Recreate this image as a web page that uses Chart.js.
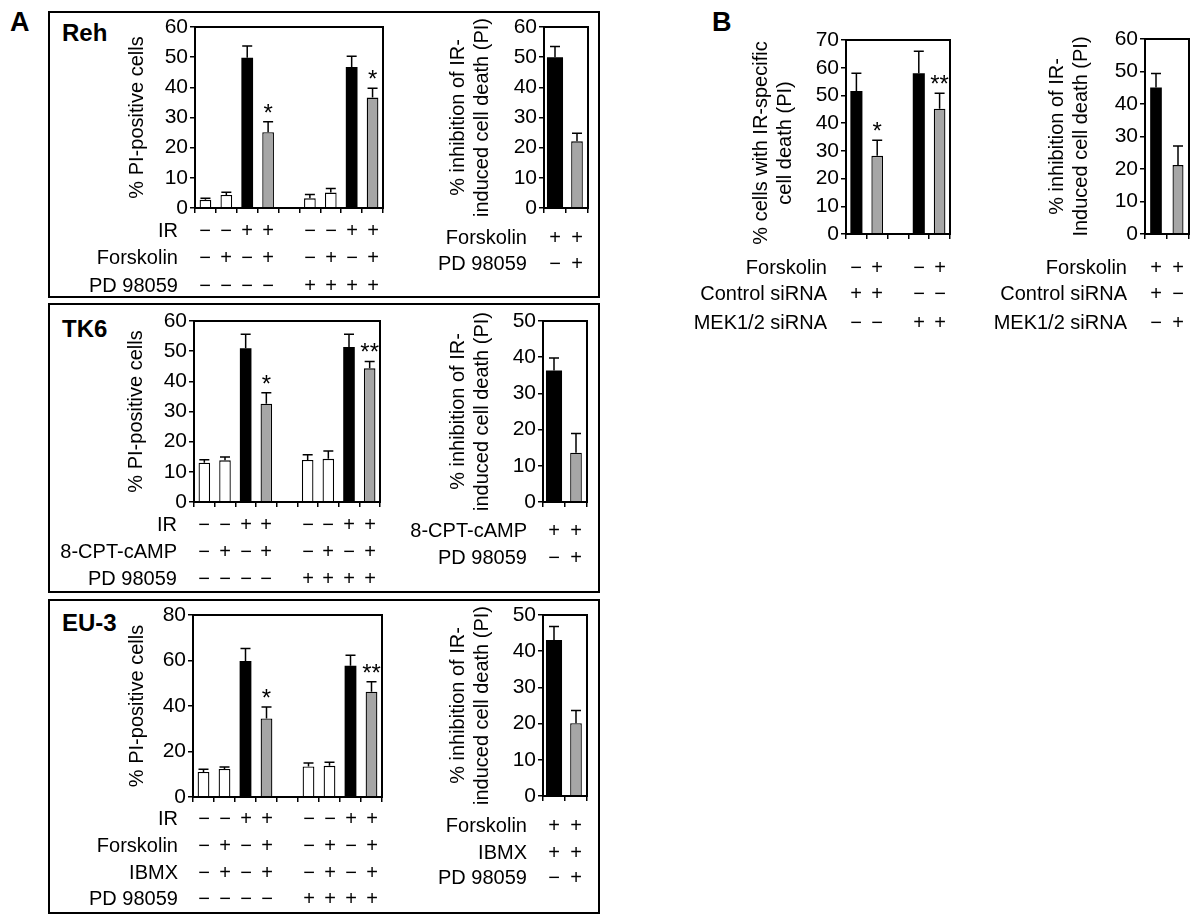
<!DOCTYPE html>
<html><head><meta charset="utf-8">
<script src="https://cdn.jsdelivr.net/npm/chart.js"></script>
<style>
body{margin:0;background:#fff;width:1200px;height:919px;position:relative;overflow:hidden;font-family:'Liberation Sans',Arial,sans-serif;color:#000}
.box{position:absolute;border:2px solid #000;box-sizing:border-box}
.t{position:absolute;font-size:20px;line-height:24px;height:24px;white-space:nowrap;z-index:2}
.lbl{text-align:right;width:300px}
.sg{text-align:center;width:20px}
.big{position:absolute;font-weight:bold;white-space:nowrap;z-index:2}
canvas{position:absolute;z-index:1}
</style></head><body>
<div class="box" style="left:48px;top:11px;width:552px;height:287px"></div>
<div class="box" style="left:48px;top:303px;width:552px;height:290px"></div>
<div class="box" style="left:48px;top:599px;width:552px;height:315px"></div>
<div class="big" style="left:10px;top:7px;font-size:27px;line-height:30px">A</div>
<div class="big" style="left:712px;top:7px;font-size:27px;line-height:30px">B</div>
<div class="big" style="left:62px;top:19px;font-size:24px;line-height:28px">Reh</div>
<div class="big" style="left:62px;top:315px;font-size:24px;line-height:28px">TK6</div>
<div class="big" style="left:62px;top:609px;font-size:24px;line-height:28px">EU-3</div>
<script>
// ---------- DATA ----------
const mainCategories = ['1','2','3','4','','5','6','7','8'];
const sideCategories = ['1','2'];
const bCategories = ['1','2','','3','4'];

const mainColors = ['white','white','black','gray',null,'white','white','black','gray'];
const sideColors = ['black','gray'];
const bColors = ['black','gray',null,'black','gray'];

// Reh
const rehValues = [2.7, 4.3, 49.8, 25.1, null, 3.2, 5.1, 46.7, 36.6];
const rehErrors = [0.5, 0.9, 3.9, 3.5, null, 1.3, 1.4, 3.6, 3.1];
const rehStars  = ['', '', '', '*', '', '', '', '', '*'];
const rehSideValues = [50.0, 22.1];
const rehSideErrors = [3.5, 2.7];
const rehRowLabels = ['IR', 'Forskolin', 'PD 98059'];
const rehRows = [
  ['−','−','+','+','','−','−','+','+'],
  ['−','+','−','+','','−','+','−','+'],
  ['−','−','−','−','','+','+','+','+']
];
const rehSideRowLabels = ['Forskolin', 'PD 98059'];
const rehSideRows = [['+','+'], ['−','+']];

// TK6
const tk6Values = [13.0, 13.8, 51.0, 32.6, null, 13.9, 14.3, 51.4, 44.3];
const tk6Errors = [1.0, 1.1, 4.6, 3.6, null, 1.8, 2.6, 4.2, 2.3];
const tk6Stars  = ['', '', '', '*', '', '', '', '', '**'];
const tk6SideValues = [36.3, 13.6];
const tk6SideErrors = [3.5, 5.3];
const tk6RowLabels = ['IR', '8-CPT-cAMP', 'PD 98059'];
const tk6Rows = [
  ['−','−','+','+','','−','−','+','+'],
  ['−','+','−','+','','−','+','−','+'],
  ['−','−','−','−','','+','+','+','+']
];
const tk6SideRowLabels = ['8-CPT-cAMP', 'PD 98059'];
const tk6SideRows = [['+','+'], ['−','+']];

// EU-3
const eu3Values = [11.0, 12.3, 59.8, 34.5, null, 13.4, 13.7, 57.7, 46.3];
const eu3Errors = [1.2, 0.9, 5.5, 5.1, null, 1.6, 1.6, 4.6, 4.4];
const eu3Stars  = ['', '', '', '*', '', '', '', '', '**'];
const eu3SideValues = [43.1, 20.1];
const eu3SideErrors = [3.7, 3.5];
const eu3RowLabels = ['IR', 'Forskolin', 'IBMX', 'PD 98059'];
const eu3Rows = [
  ['−','−','+','+','','−','−','+','+'],
  ['−','+','−','+','','−','+','−','+'],
  ['−','+','−','+','','−','+','−','+'],
  ['−','−','−','−','','+','+','+','+']
];
const eu3SideRowLabels = ['Forskolin', 'IBMX', 'PD 98059'];
const eu3SideRows = [['+','+'], ['+','+'], ['−','+']];

// B
const bValues = [51.6, 28.2, null, 58.0, 45.2];
const bErrors = [6.4, 5.6, null, 7.9, 5.6];
const bStars  = ['', '*', '', '', '**'];
const bRowLabels = ['Forskolin', 'Control siRNA', 'MEK1/2 siRNA'];
const bRows = [
  ['−','+','','−','+'],
  ['+','+','','−','−'],
  ['−','−','','+','+']
];
const bSideValues = [45.1, 21.2];
const bSideErrors = [4.3, 5.9];
const bSideRowLabels = ['Forskolin', 'Control siRNA', 'MEK1/2 siRNA'];
const bSideRows = [['+','+'], ['+','−'], ['−','+']];

const mainTitle = ['% PI-positive cells'];
const sideTitle = ['% inhibition of IR-', 'induced cell death (PI)'];
const bTitle = ['% cells with IR-specific', 'cell death (PI)'];
const bSideTitle = ['% inhibition of IR-', 'Induced cell death (PI)'];

// ---------- RENDER ----------
const FONT = "'Liberation Sans', Arial, sans-serif";
const FILL = {white:'#ffffff', black:'#000000', gray:'#a6a6a6'};

const decor = {
  id: 'decor',
  afterDatasetsDraw(chart, args, o) {
    const ctx = chart.ctx, ys = chart.scales.y;
    ctx.save();
    chart.data.datasets.forEach((ds, di) => {
      const el = chart.getDatasetMeta(di).data[ds.idx];
      if (!el) return;
      const v = ds.data[ds.idx];
      const top = ys.getPixelForValue(v + ds.err);
      ctx.strokeStyle = '#000'; ctx.lineWidth = 1.5;
      ctx.beginPath();
      ctx.moveTo(el.x, el.y); ctx.lineTo(el.x, top);
      ctx.moveTo(el.x - 5, top); ctx.lineTo(el.x + 5, top);
      ctx.stroke();
      if (ds.star) {
        ctx.fillStyle = '#000';
        ctx.font = '24px ' + FONT;
        ctx.textAlign = 'center'; ctx.textBaseline = 'alphabetic';
        ctx.fillText(ds.star, el.x, top - 1);
      }
    });
    const a = chart.chartArea;
    ctx.strokeStyle = '#000'; ctx.lineWidth = 2;
    ctx.strokeRect(a.left, a.top, a.right - a.left, a.bottom - a.top);
    // axis title
    ctx.fillStyle = '#000';
    ctx.font = '20px ' + FONT;
    ctx.textAlign = 'center'; ctx.textBaseline = 'middle';
    const ty = o.titleY != null ? o.titleY : (a.top + a.bottom) / 2;
    ctx.translate(o.titleX, ty);
    ctx.rotate(-Math.PI / 2);
    o.lines.forEach((ln, i) => ctx.fillText(ln, 0, i * 24));
    ctx.restore();
  }
};

function addDiv(text, cls, left, top) {
  const d = document.createElement('div');
  d.className = 't ' + cls;
  d.textContent = text;
  d.style.left = left + 'px';
  d.style.top = top + 'px';
  document.body.appendChild(d);
}

function makeChart(c) {
  const padTop = 20, padRight = 4, padBottom = 10, xH = 8;
  const cl = Math.round(c.titleX - 12);
  const ct = c.T - padTop;
  const W = c.R - cl + padRight;
  const H = c.B - ct + xH + padBottom;
  const cv = document.createElement('canvas');
  cv.width = W; cv.height = H;
  cv.style.left = cl + 'px'; cv.style.top = ct + 'px';
  cv.style.width = W + 'px'; cv.style.height = H + 'px';
  document.body.appendChild(cv);
  const datasets = [];
  c.values.forEach((v, i) => {
    if (v == null) return;
    const col = c.colors[i];
    datasets.push({
      data: c.values.map((w, j) => j === i ? w : null),
      backgroundColor: FILL[col],
      borderColor: '#000',
      borderWidth: col === 'black' ? 0 : 1.3,
      barPercentage: c.widths[i],
      categoryPercentage: 1,
      grouped: false,
      idx: i, err: c.errors[i], star: c.stars ? c.stars[i] : ''
    });
  });
  const gridCfg = {display: true, drawOnChartArea: false, drawTicks: true, tickLength: 5, color: '#000', lineWidth: 1.5};
  const chart = new Chart(cv, {
    type: 'bar',
    data: {labels: c.labels, datasets},
    options: {
      responsive: false, animation: false, devicePixelRatio: 1,
      layout: {padding: {top: padTop, right: padRight, bottom: padBottom, left: 0}},
      plugins: {
        legend: {display: false}, tooltip: {enabled: false},
        decor: {lines: c.title, titleX: c.titleX - cl, titleY: c.titleY != null ? c.titleY - ct : null}
      },
      scales: {
        x: {offset: true, ticks: {display: false}, grid: Object.assign({offset: true}, gridCfg), border: {display: false},
            afterFit: s => { s.height = xH; }},
        y: {min: 0, max: c.yMax,
            ticks: {stepSize: c.yStep, autoSkip: false, font: {family: FONT, size: 21}, color: '#000', padding: 2},
            grid: gridCfg, border: {display: false},
            afterFit: s => { s.width = c.L - cl; }}
      }
    },
    plugins: [decor]
  });
  // condition table
  c.rowLabels.forEach((lab, r) => {
    const y = c.rowY[r];
    addDiv(lab, 'lbl', c.labelRight - 300, y - 12);
    c.rows[r].forEach((s, i) => {
      if (!s) return;
      const x = cl + chart.scales.x.getPixelForValue(i);
      addDiv(s, 'sg', Math.round(x - 10), y - 12);
    });
  });
  return chart;
}

const mainW = [0.56,0.56,0.56,0.56,0.56,0.56,0.56,0.56,0.56];
const sideW = [0.73, 0.53];

makeChart({L:195, R:383, T:27, B:208, titleX:137, title:mainTitle, yMax:60, yStep:10,
  labels:mainCategories, values:rehValues, errors:rehErrors, colors:mainColors, widths:mainW, stars:rehStars,
  rowLabels:rehRowLabels, rows:rehRows, rowY:[230,257,285], labelRight:178});
makeChart({L:544, R:588, T:27, B:208, titleX:458, title:sideTitle, yMax:60, yStep:10,
  labels:sideCategories, values:rehSideValues, errors:rehSideErrors, colors:sideColors, widths:sideW,
  rowLabels:rehSideRowLabels, rows:rehSideRows, rowY:[237,263], labelRight:527});

makeChart({L:194, R:380, T:321, B:502, titleX:136, title:mainTitle, yMax:60, yStep:10,
  labels:mainCategories, values:tk6Values, errors:tk6Errors, colors:mainColors, widths:mainW, stars:tk6Stars,
  rowLabels:tk6RowLabels, rows:tk6Rows, rowY:[524,551,578], labelRight:177});
makeChart({L:543, R:587, T:321, B:502, titleX:458, title:sideTitle, yMax:50, yStep:10,
  labels:sideCategories, values:tk6SideValues, errors:tk6SideErrors, colors:sideColors, widths:sideW,
  rowLabels:tk6SideRowLabels, rows:tk6SideRows, rowY:[530,557], labelRight:527});

makeChart({L:193, R:382, T:615, B:797, titleX:137, title:mainTitle, yMax:80, yStep:20,
  labels:mainCategories, values:eu3Values, errors:eu3Errors, colors:mainColors, widths:mainW, stars:eu3Stars,
  rowLabels:eu3RowLabels, rows:eu3Rows, rowY:[818,845,872,898], labelRight:178});
makeChart({L:543, R:587, T:615, B:796, titleX:458, title:sideTitle, yMax:50, yStep:10,
  labels:sideCategories, values:eu3SideValues, errors:eu3SideErrors, colors:sideColors, widths:sideW,
  rowLabels:eu3SideRowLabels, rows:eu3SideRows, rowY:[825,852,877], labelRight:527});

makeChart({L:846, R:950, T:40, B:234, titleX:761, titleY:143, title:bTitle, yMax:70, yStep:10,
  labels:bCategories, values:bValues, errors:bErrors, colors:bColors, widths:[0.58,0.56,0.56,0.58,0.56], stars:bStars,
  rowLabels:bRowLabels, rows:bRows, rowY:[267,293,322], labelRight:827});
makeChart({L:1145, R:1189, T:39, B:234, titleX:1057, title:bSideTitle, yMax:60, yStep:10,
  labels:sideCategories, values:bSideValues, errors:bSideErrors, colors:sideColors, widths:[0.53,0.5],
  rowLabels:bSideRowLabels, rows:bSideRows, rowY:[267,293,322], labelRight:1127});
</script>
</body></html>
